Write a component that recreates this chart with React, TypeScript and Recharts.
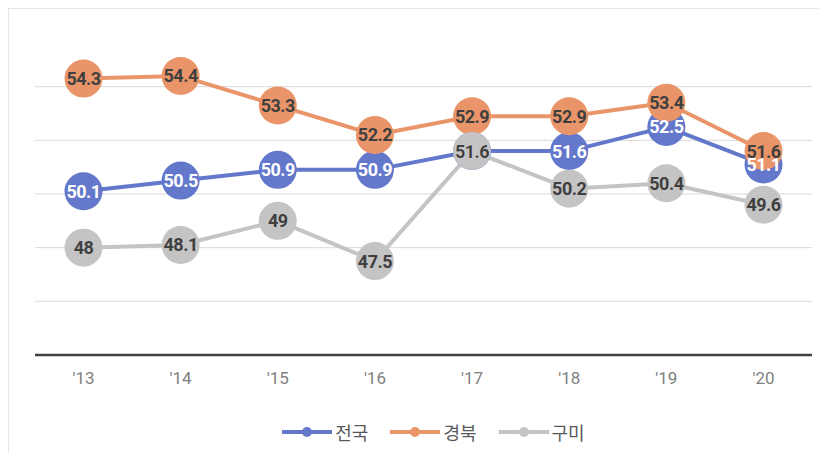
import React from 'react';
import { LineChart, Line, XAxis, YAxis, CartesianGrid, Legend, LabelList } from 'recharts';

const years = ["'13", "'14", "'15", "'16", "'17", "'18", "'19", "'20"];
const national = [50.1, 50.5, 50.9, 50.9, 51.6, 51.6, 52.5, 51.1];
const gyeongbuk = [54.3, 54.4, 53.3, 52.2, 52.9, 52.9, 53.4, 51.6];
const gumi = [48, 48.1, 49, 47.5, 51.6, 50.2, 50.4, 49.6];
const yTicks = [44, 46, 48, 50, 52, 54];

const seriesNames = ['전국', '경북', '구미'];
const seriesKeys = ['national', 'gyeongbuk', 'gumi'];
const seriesColors = ['#6377CB', '#EA9569', '#C4C4C4'];
const labelColors = ['#FFFFFF', '#3F3F3F', '#3F3F3F'];

const data = years.map((y, i) => ({
  year: y,
  national: national[i],
  gyeongbuk: gyeongbuk[i],
  gumi: gumi[i],
}));

const FONT = "Roboto, 'Noto Sans', 'Noto Sans CJK KR', sans-serif";

const makeLabel = (color: string) => (props: any) => {
  const { x, y, value } = props;
  return (
    <text
      x={x}
      y={y}
      textAnchor="middle"
      dominantBaseline="central"
      fill={color}
      fontFamily={FONT}
      fontWeight={700}
      fontSize={18}
      letterSpacing={-0.5}
    >
      {value}
    </text>
  );
};

const LegendContent = () => (
  <div
    style={{
      display: 'flex',
      justifyContent: 'center',
      alignItems: 'center',
      height: 30,
      paddingLeft: 20,
      fontFamily: "'Noto Sans CJK KR', sans-serif",
    }}
  >
    {seriesNames.map((n, i) => (
      <div key={n} style={{ display: 'flex', alignItems: 'center', marginRight: i < 2 ? 22 : 0 }}>
        <svg width={50} height={12} style={{ marginRight: 3 }}>
          <line x1={0} y1={6} x2={50} y2={6} stroke={seriesColors[i]} strokeWidth={4} />
          <circle cx={25} cy={6} r={5} fill={seriesColors[i]} />
        </svg>
        <span style={{ fontSize: 18, color: '#595959' }}>{n}</span>
      </div>
    ))}
  </div>
);

export default function App() {
  return (
    <div
      style={{
        width: 819,
        height: 444,
        borderLeft: '1px solid #e6e6e6',
        borderTop: '1px solid #e6e6e6',
        boxSizing: 'border-box',
        background: '#fff',
      }}
    >
      <LineChart
        width={810}
        height={440}
        data={data}
        margin={{ top: 24, right: 7, left: 26, bottom: 2 }}
      >
        <CartesianGrid vertical={false} stroke="#d9d9d9" horizontalValues={yTicks} />
        <XAxis
          dataKey="year"
          padding={{ left: 48.5, right: 48.5 }}
          axisLine={{ stroke: '#404040', strokeWidth: 2.5 }}
          tickLine={false}
          tickSize={0}
          tickMargin={17}
          height={62}
          tick={{ fill: '#808080', fontSize: 17, fontFamily: FONT }}
        />
        <YAxis hide domain={[44, 56]} ticks={yTicks} />
        <Legend verticalAlign="bottom" height={30} content={<LegendContent />} />
        {seriesKeys.map((k, i) => (
          <Line
            key={k}
            dataKey={k}
            name={seriesNames[i]}
            stroke={seriesColors[i]}
            strokeWidth={4}
            dot={{ r: 19, fill: seriesColors[i], stroke: seriesColors[i], strokeWidth: 0 }}
            activeDot={false}
            isAnimationActive={false}
          />
        ))}
        {seriesKeys.map((k, i) => (
          <Line
            key={k + '-label'}
            dataKey={k}
            stroke="none"
            dot={false}
            activeDot={false}
            legendType="none"
            isAnimationActive={false}
          >
            <LabelList dataKey={k} content={makeLabel(labelColors[i])} />
          </Line>
        ))}
      </LineChart>
    </div>
  );
}
